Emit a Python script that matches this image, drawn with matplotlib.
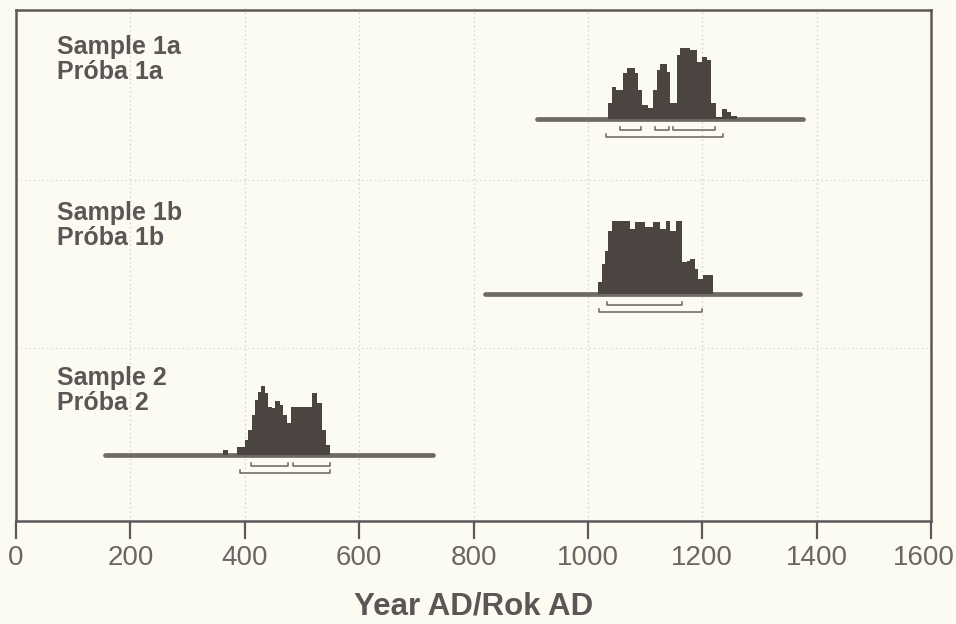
import matplotlib.pyplot as plt
import matplotlib.transforms as mtransforms
import numpy as np

plt.rcParams['font.family'] = ['Liberation Sans', 'DejaVu Sans']

# calibrated age distributions (years AD, relative probability)
edges_1a = [1036, 1042, 1050, 1062, 1068, 1082, 1088, 1094, 1106, 1114, 1120, 1126,
            1138, 1144, 1156, 1161, 1178, 1190, 1199, 1208, 1216, 1224, 1234, 1243,
            1251, 1260]
probs_1a = [16, 32, 29, 46, 51, 46, 29, 14, 11, 29, 49, 55,
            47, 16, 64, 71, 69, 57, 62, 59, 16, 2, 10, 7, 3]

edges_1b = [1018, 1024, 1030, 1036, 1042, 1074, 1082, 1100, 1114, 1126, 1137, 1144,
            1154, 1164, 1173, 1179, 1187, 1193, 1202, 1219]
probs_1b = [12, 30, 43, 63, 73, 65, 72, 67, 72, 65, 73, 63,
            73, 32, 33, 35, 25, 15, 19]

edges_2 = [362, 370, 387, 400, 406, 412, 418, 424, 428, 435, 441, 447, 453, 462,
           467, 474, 480, 517, 527, 535, 542, 549]
probs_2 = [5, 0, 8, 15, 25, 40, 55, 63, 69, 62, 48, 47, 54, 50,
           40, 32, 48, 62, 52, 25, 10]

# extent of the sample lines
line_1a = [911, 1376]
line_1b = [820, 1371]
line_2 = [156, 730]

# probability ranges (upper row = 1 sigma, lower row = 2 sigma)
ranges_1a_1s = [(1057, 1093), (1117, 1141), (1149, 1222)]
ranges_1a_2s = [(1032, 1236)]
ranges_1b_1s = [(1033, 1164)]
ranges_1b_2s = [(1020, 1199)]
ranges_2_1s = [(411, 475), (484, 549)]
ranges_2_2s = [(391, 549)]

labels = ["Sample 1a\nPróba 1a", "Sample 1b\nPróba 1b", "Sample 2\nPróba 2"]
xticks = [0, 200, 400, 600, 800, 1000, 1200, 1400, 1600]

bg = '#fbfbf2'
dark = '#4b4441'
linec = '#6e6a66'
txtc = '#5a5655'

fig = plt.figure(figsize=(9.56, 6.24), dpi=100, facecolor=bg)
ax = fig.add_axes([16 / 956, 1 - 521 / 624, 915 / 956, 511 / 624])
ax.set_facecolor(bg)
ax.set_xlim(0, 1600)
ax.set_ylim(0, 511)

for x in xticks[1:-1]:
    ax.axvline(x, color='#c9c9c0', lw=0.9, ls=(0, (1, 2.5)), zorder=0)
for y in [173, 341]:
    ax.axhline(y, color='#d4d4cc', lw=0.9, ls=(0, (1, 2.5)), zorder=0)

samples = [
    (402, line_1a, edges_1a, probs_1a, ranges_1a_1s, ranges_1a_2s),
    (227, line_1b, edges_1b, probs_1b, ranges_1b_1s, ranges_1b_2s),
    (66, line_2, edges_2, probs_2, ranges_2_1s, ranges_2_2s),
]

for base, line, edges, probs, r1, r2 in samples:
    ax.plot(line, [base, base], color=linec, lw=3.4, solid_capstyle='round', zorder=2)
    ax.stairs(base + np.array(probs), edges, baseline=base, fill=True,
              color=dark, zorder=3)
    for rows, off in [(r1, 11), (r2, 18)]:
        for a, b in rows:
            y = base - off
            ax.plot([a, a, b, b], [y + 3, y, y, y + 3], color='#6a6262', lw=1.1, zorder=3)

label_y = [486, 320, 155]
for txt, y in zip(labels, label_y):
    ax.text(72, y, txt, fontsize=18, fontweight='bold', color=txtc,
            va='top', ha='left', linespacing=1.05)

for s in ax.spines.values():
    s.set_color('#5e5658')
    s.set_linewidth(1.8)

ax.set_xticks(xticks)
ax.set_yticks([])
ax.tick_params(axis='x', direction='out', length=13, width=1.6, color='#5e5658',
               labelsize=20, labelcolor='#6a6666', pad=4)
# keep the last label inside the picture
last = ax.get_xticklabels()[-1]
last.set_transform(last.get_transform() + mtransforms.ScaledTranslation(-0.07, 0, fig.dpi_scale_trans))

ax.set_xlabel("Year AD/Rok AD", fontsize=22.5, fontweight='bold', color=txtc, labelpad=15)

fig.savefig("out.png", dpi=100, facecolor=bg)
